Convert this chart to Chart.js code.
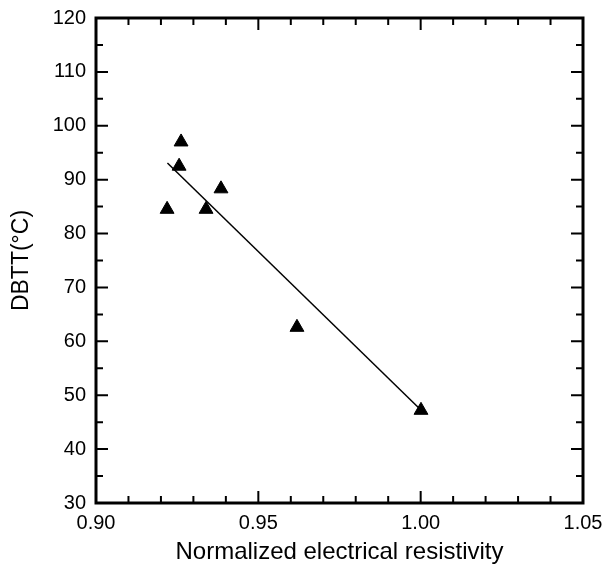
<!DOCTYPE html>
<html>
<head>
<meta charset="utf-8">
<script src="https://cdn.jsdelivr.net/npm/chart.js@4"></script>
<style>
  html, body { margin: 0; padding: 0; background: #fff; }
  #wrap { width: 604px; height: 570px; }
</style>
</head>
<body>
<div id="wrap"><canvas id="chart" width="604" height="570"></canvas></div>
<script>
// measured points
const resistivity = [0.9219, 0.9262, 0.9256, 0.9339, 0.9385, 0.9619, 1.0001];
const dbtt = [84.5, 97.0, 92.5, 84.5, 88.3, 62.6, 47.2];

// linear fit, end points
const fitX = [0.922, 1.000];
const fitY = [93.1, 47.3];

const xTicks = [0.90, 0.95, 1.00, 1.05];
const yTicks = [30, 40, 50, 60, 70, 80, 90, 100, 110, 120];

const FONT = 'Arial, "Liberation Sans", sans-serif';

// inward tick marks on all four sides + frame
const frameTicks = {
    id: 'frameTicks',
    afterDraw(chart) {
        const { ctx, chartArea: a, scales } = chart;
        const xs = scales.x, ys = scales.y;
        ctx.save();
        ctx.strokeStyle = '#000';
        ctx.lineWidth = 2;
        for (let i = 0; i <= 15; i++) {
            const v = 0.90 + i * 0.01;
            const px = xs.getPixelForValue(v);
            const len = i % 5 === 0 ? 12 : 7;
            ctx.beginPath();
            ctx.moveTo(px, a.bottom); ctx.lineTo(px, a.bottom - len);
            ctx.moveTo(px, a.top); ctx.lineTo(px, a.top + len);
            ctx.stroke();
        }
        for (let i = 0; i <= 18; i++) {
            const v = 30 + i * 5;
            const py = ys.getPixelForValue(v);
            const len = i % 2 === 0 ? 12 : 7;
            ctx.beginPath();
            ctx.moveTo(a.left, py); ctx.lineTo(a.left + len, py);
            ctx.moveTo(a.right, py); ctx.lineTo(a.right - len, py);
            ctx.stroke();
        }
        ctx.lineWidth = 3;
        ctx.strokeRect(a.left, a.top, a.right - a.left, a.bottom - a.top);
        ctx.restore();
    }
};

new Chart(document.getElementById('chart'), {
    type: 'scatter',
    data: {
        datasets: [
            {
                data: resistivity.map((x, i) => ({ x: x, y: dbtt[i] })),
                pointStyle: 'triangle',
                pointRadius: 8,
                backgroundColor: '#000',
                borderColor: '#000',
                borderWidth: 1
            },
            {
                type: 'line',
                data: fitX.map((x, i) => ({ x: x, y: fitY[i] })),
                borderColor: '#000',
                borderWidth: 1.5,
                pointRadius: 0,
                fill: false
            }
        ]
    },
    options: {
        responsive: false,
        animation: false,
        layout: { padding: { top: 18, right: 21, left: 0, bottom: 0 } },
        plugins: { legend: { display: false }, tooltip: { enabled: false } },
        scales: {
            x: {
                type: 'linear',
                min: 0.90, max: 1.05,
                afterBuildTicks: s => { s.ticks = xTicks.map(v => ({ value: v })); },
                afterFit: s => { s.height = 67; s.paddingLeft = 0; s.paddingRight = 0; },
                grid: { display: false, drawTicks: false },
                border: { display: false },
                ticks: {
                    color: '#000',
                    padding: 8,
                    maxRotation: 0,
                    font: { family: FONT, size: 20 },
                    callback: v => v.toFixed(2)
                },
                title: {
                    display: true,
                    text: 'Normalized electrical resistivity',
                    color: '#000',
                    font: { family: FONT, size: 24 },
                    padding: { top: 8, bottom: 3 }
                }
            },
            y: {
                type: 'linear',
                min: 30, max: 120,
                afterBuildTicks: s => { s.ticks = yTicks.map(v => ({ value: v })); },
                afterFit: s => { s.width = 96; s.paddingTop = 0; s.paddingBottom = 0; },
                grid: { display: false, drawTicks: false },
                border: { display: false },
                ticks: {
                    color: '#000',
                    padding: 10,
                    font: { family: FONT, size: 20 }
                },
                title: {
                    display: true,
                    text: 'DBTT(\u00B0C)',
                    color: '#000',
                    font: { family: FONT, size: 23 },
                    padding: { top: 8, bottom: 8 }
                }
            }
        }
    },
    plugins: [frameTicks]
});
</script>
</body>
</html>
